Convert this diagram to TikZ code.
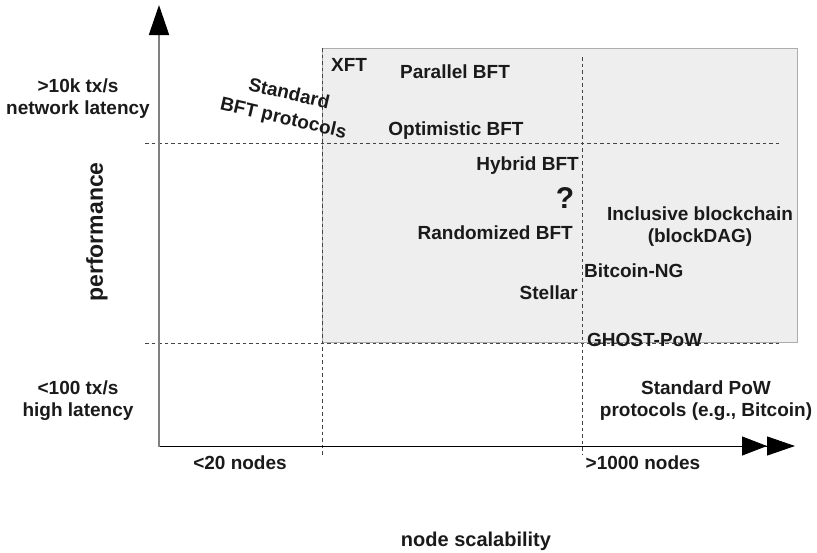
\documentclass[tikz,border=0pt]{standalone}
\usepackage{fontspec}
\setmainfont{Liberation Sans}
\usetikzlibrary{arrows.meta}
\definecolor{boxfill}{HTML}{EEEEEE}
\definecolor{boxline}{HTML}{ADADAD}
\definecolor{dashcol}{HTML}{444444}
\definecolor{txt}{HTML}{1A1A1A}
\begin{document}
\begin{tikzpicture}[x=1pt,y=-1pt,
  lbl/.style={inner sep=0pt,text=txt,font=\bfseries\fontsize{19}{22}\selectfont,align=center},
  grid/.style={dashcol,line width=0.9pt,dash pattern=on 3.5pt off 3pt},
  ]
\useasboundingbox (0,0) rectangle (817,552);
% shaded region
\draw[fill=boxfill,draw=boxline,line width=1pt] (322,48) rectangle (797,342);
% dashed grid lines
\coordinate (h1a) at (145,143); \coordinate (h1b) at (781,143);
\coordinate (h2a) at (145,343); \coordinate (h2b) at (780,343);
\coordinate (v1a) at (322,48);  \coordinate (v1b) at (322,455);
\coordinate (v2a) at (582,57);  \coordinate (v2b) at (582,455);
\draw[grid] (h1a) -- (h1b);
\draw[grid] (h2a) -- (h2b);
\draw[grid] (v1a) -- (v1b);
\draw[grid] (v2a) -- (v2b);
% axes
\coordinate (O) at (159,446);
\coordinate (Ytop) at (159,5);
\coordinate (Xend) at (795,446);
\draw[black,line width=1pt,-{Triangle[length=25pt,width=19pt]Triangle[length=28pt,width=19pt]}] (O) -- (Xend);
\draw[gray,line width=1.8pt,-{Triangle[length=30pt,width=20pt,color=black]}] (159,447) -- (Ytop);
% labels inside
\node[lbl,anchor=west] (xft) at (331,65) {XFT};
\node[lbl] (par) at (455,72) {Parallel BFT};
\node[lbl,rotate=-13,font=\bfseries\fontsize{19}{25}\selectfont] (std) at (286,107) {Standard\\BFT protocols};
\node[lbl] (opt) at (456,131) {Optimistic BFT};
\node[lbl,anchor=east] (hyb) at (579,166) {Hybrid BFT};
\node[inner sep=0pt,text=txt,font=\bfseries\fontsize{30}{32}\selectfont] (q) at (565,198) {?};
\node[lbl,anchor=east] (rnd) at (573,233) {Randomized BFT};
\node[lbl,anchor=east] (stl) at (578,293) {Stellar};
\node[lbl,anchor=west] (bng) at (584,271) {Bitcoin-NG};
\node[lbl] (inc) at (700,227) {Inclusive blockchain\\(blockDAG)};
\node[lbl,anchor=west] (gho) at (587,340) {GHOST-PoW};
\node[lbl] (pow) at (706,401) {Standard PoW\\protocols (e.g., Bitcoin)};
% axis labels
\node[lbl] (hi) at (78,99) {>10k tx/s\\network latency};
\node[lbl] (lo) at (78,401) {<100 tx/s\\high latency};
\node[inner sep=0pt,text=txt,font=\bfseries\fontsize{23}{26}\selectfont,rotate=90] (perf) at (97,232) {performance};
\node[lbl] (few) at (240,463) {<20 nodes};
\node[lbl] (many) at (643,463) {>1000 nodes};
\node[inner sep=0pt,text=txt,font=\bfseries\fontsize{20}{24}\selectfont] (scal) at (476,541) {node scalability};
\end{tikzpicture}
\end{document}
